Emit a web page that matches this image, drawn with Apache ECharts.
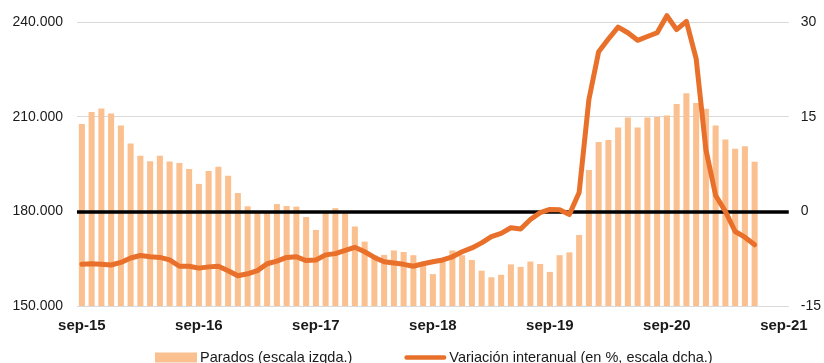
<!DOCTYPE html>
<html>
<head>
<meta charset="utf-8">
<script src="https://cdn.jsdelivr.net/npm/echarts@6/dist/echarts.min.js"></script>
<style>
  html, body { margin: 0; padding: 0; background: #fff; }
  #chart { width: 824px; height: 363px; }
</style>
</head>
<body>
<div id="chart"></div>
<script>
// Monthly categories, sep-15 .. sep-21
const months = [
  'sep-15','oct-15','nov-15','dic-15','ene-16','feb-16','mar-16','abr-16','may-16','jun-16','jul-16','ago-16',
  'sep-16','oct-16','nov-16','dic-16','ene-17','feb-17','mar-17','abr-17','may-17','jun-17','jul-17','ago-17',
  'sep-17','oct-17','nov-17','dic-17','ene-18','feb-18','mar-18','abr-18','may-18','jun-18','jul-18','ago-18',
  'sep-18','oct-18','nov-18','dic-18','ene-19','feb-19','mar-19','abr-19','may-19','jun-19','jul-19','ago-19',
  'sep-19','oct-19','nov-19','dic-19','ene-20','feb-20','mar-20','abr-20','may-20','jun-20','jul-20','ago-20',
  'sep-20','oct-20','nov-20','dic-20','ene-21','feb-21','mar-21','abr-21','may-21','jun-21','jul-21','ago-21',
  'sep-21'
];

// Parados (persons, left scale)
const parados = [
  207700, 211500, 212600, 211000, 207200, 201500, 197600, 195900, 197600, 195800, 195300, 193400,
  188700, 192800, 194100, 191300, 185800, 181600, 180000, 180000, 182300, 181700, 181500, 178200,
  174100, 180000, 181000, 179400, 175200, 170400, 166000, 166200, 167600, 167100, 166100, 163000,
  160100, 164500, 167600, 166100, 164600, 161200, 159100, 159900, 163200, 162400, 164100, 163300,
  160800, 166100, 167000, 172500, 193100, 202000, 202600, 206600, 209700, 206600, 209700, 209900,
  210400, 214000, 217400, 214300, 212500, 207200, 202800, 199800, 200600, 195700
];

// Variación interanual (%, right scale)
const variacion = [
  -8.4, -8.3, -8.4, -8.5, -8.1, -7.4, -7.0, -7.2, -7.3, -7.7, -8.7, -8.7,
  -9.0, -8.8, -8.7, -9.4, -10.2, -9.9, -9.4, -8.3, -7.9, -7.3, -7.2, -7.8,
  -7.7, -6.9, -6.7, -6.2, -5.7, -6.4, -7.3, -8.0, -8.2, -8.4, -8.7, -8.3,
  -8.0, -7.7, -7.2, -6.4, -5.8, -5.0, -4.0, -3.5, -2.6, -2.8, -1.3, -0.2,
  0.3, 0.25, -0.5, 3.0, 17.7, 25.3, 27.3, 29.2, 28.3, 27.1, 27.7, 28.3,
  31.0, 28.8, 30.1, 24.2, 9.8, 2.5, 0.0, -3.2, -4.1, -5.3
];

// Axis ranges and ticks
const leftTicks = { min: 150000, max: 240000, interval: 30000 };
const rightTicks = { min: -15, max: 30, interval: 15 };
const seriesNames = ['Parados (escala izqda.)', 'Variación interanual (en %, escala dcha.)'];

const FONT = 'Liberation Sans, Arial, sans-serif';
const BAR_COLOR = '#FAC090';
const LINE_COLOR = '#E8702A';
const fmtThousands = v => String(v).replace(/\B(?=(\d{3})+(?!\d))/g, '.');

const chart = echarts.init(document.getElementById('chart'), null, { renderer: 'canvas' });
chart.setOption({
  animation: false,
  textStyle: { fontFamily: FONT },
  grid: { left: 77, right: 35, top: 22, bottom: 57, containLabel: false },
  legend: {
    left: 150,
    top: 345,
    itemWidth: 42,
    itemHeight: 10,
    itemGap: 52,
    symbolKeepAspect: true,
    textStyle: { fontFamily: FONT, fontSize: 14.5, color: '#1a1a1a', padding: [0, 0, 0, -2] },
    data: [
      { name: seriesNames[0], icon: 'rect' },
      { name: seriesNames[1], icon: 'path://M2,0H40A2,2 0 0 1 40,4.5H2A2,2 0 0 1 2,0Z',
        itemStyle: { color: LINE_COLOR, borderWidth: 0 } }
    ]
  },
  xAxis: {
    type: 'category',
    data: months,
    axisLine: { show: true, lineStyle: { color: '#d9d9d9', width: 1 } },
    axisTick: { show: false },
    axisLabel: {
      interval: i => i % 12 === 0,
      margin: 12,
      fontFamily: FONT,
      fontSize: 15,
      fontWeight: 'bold',
      color: '#1a1a1a'
    }
  },
  yAxis: [
    {
      type: 'value',
      min: leftTicks.min, max: leftTicks.max, interval: leftTicks.interval,
      axisLine: { show: false }, axisTick: { show: false },
      splitLine: { show: true, lineStyle: { color: '#d9d9d9', width: 1 } },
      axisLabel: { formatter: fmtThousands, margin: 14, fontFamily: FONT, fontSize: 14, color: '#1a1a1a' }
    },
    {
      type: 'value',
      min: rightTicks.min, max: rightTicks.max, interval: rightTicks.interval,
      axisLine: { show: false }, axisTick: { show: false },
      splitLine: { show: false },
      axisLabel: { margin: 12, fontFamily: FONT, fontSize: 14, color: '#1a1a1a' }
    }
  ],
  series: [
    {
      name: seriesNames[0],
      type: 'bar',
      yAxisIndex: 0,
      data: parados,
      barCategoryGap: '38%',
      itemStyle: { color: BAR_COLOR },
      z: 2,
      markLine: {
        silent: true,
        symbol: ['none', 'none'],
        label: { show: false },
        lineStyle: { color: '#000000', width: 3.5, type: 'solid' },
        data: [{ yAxis: 180000 }]
      }
    },
    {
      name: seriesNames[1],
      type: 'line',
      yAxisIndex: 1,
      data: variacion,
      symbol: 'none',
      smooth: false,
      clip: false,
      z: 5,
      lineStyle: { color: LINE_COLOR, width: 5, join: 'round', cap: 'round' },
      itemStyle: { color: LINE_COLOR }
    }
  ]
});
</script>
</body>
</html>
